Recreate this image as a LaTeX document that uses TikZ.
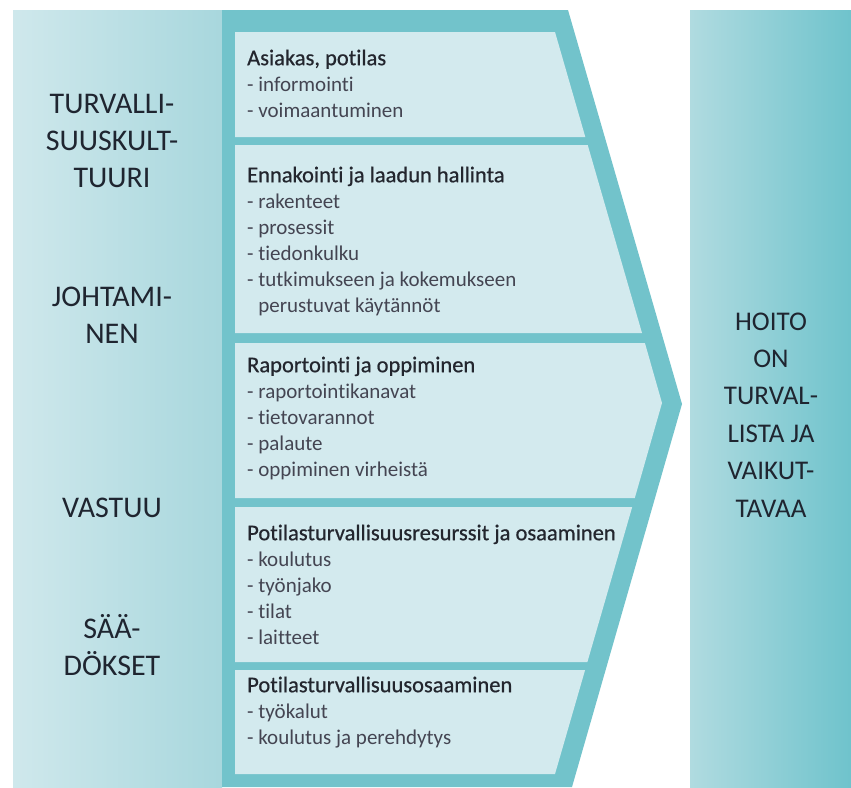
\documentclass[tikz,border=0pt]{standalone}
\usepackage{fontspec}
\setmainfont[Ligatures=NoCommon]{Carlito}
\newfontfamily\titlefont[Ligatures=NoCommon,FakeBold=0.6]{Carlito}
\definecolor{tealband}{HTML}{72C3CB}
\definecolor{boxfill}{HTML}{D3EAEE}
\definecolor{lcolL}{HTML}{CFE8EC}
\definecolor{lcolR}{HTML}{A8D7DD}
\definecolor{rcolL}{HTML}{B0DBE0}
\definecolor{rcolR}{HTML}{6FC3CC}
\definecolor{titlecol}{HTML}{23262E}
\definecolor{itemcol}{HTML}{444552}
\definecolor{labcol}{HTML}{1F2530}
\tikzset{
  boxtext/.style={anchor=north west, inner sep=0pt, align=left,
    font=\fontsize{21}{26}\selectfont, text=itemcol},
  sidelab/.style={anchor=north, inner sep=0pt, align=center,
    font=\fontsize{30}{37}\selectfont, text=labcol},
  reslab/.style={anchor=north, inner sep=0pt, align=center,
    font=\fontsize{27}{37.4}\selectfont, text=labcol},
  innerbox/.style={fill=boxfill}
}
\newcommand{\boxtitle}[1]{\strut{\titlefont\fontsize{22.5}{26}\selectfont\color{titlecol}#1}}
\begin{document}
\begin{tikzpicture}[x=1pt,y=-1pt]
\useasboundingbox (0,0) rectangle (851,787);
\fill[white] (0,0) rectangle (851,787);
% side columns
\shade[left color=lcolL, right color=lcolR] (13,10) rectangle (222,787);
\shade[left color=rcolL, right color=rcolR] (690,10) rectangle (851,787);
% big chevron
\fill[tealband] (222,10) -- (568,10) -- (682,404) -- (572,787) -- (222,787) -- cycle;
% inner boxes
\fill[innerbox] (235,32) -- (555,32) -- (585.3,137) -- (235,137) -- cycle;
\fill[innerbox] (235,145) -- (587.7,145) -- (642.0,333) -- (235,333) -- cycle;
\fill[innerbox] (235,343) -- (644.9,343) -- (662,403) -- (634.8,498) -- (235,498) -- cycle;
\fill[innerbox] (235,507) -- (632.2,507) -- (587.4,662) -- (235,662) -- cycle;
\fill[innerbox] (235,670) -- (585.1,670) -- (555,774) -- (235,774) -- cycle;
% box texts
\node[boxtext] (t1) at (247,46.8) {\boxtitle{Asiakas, potilas}\\- informointi\\- voimaantuminen};
\node[boxtext] (t2) at (247,163.8) {\boxtitle{Ennakointi ja laadun hallinta}\\- rakenteet\\- prosessit\\- tiedonkulku\\- tutkimukseen ja kokemukseen\\\phantom{- }perustuvat käytännöt};
\node[boxtext] (t3) at (247,353.8) {\boxtitle{Raportointi ja oppiminen}\\- raportointikanavat\\- tietovarannot\\- palaute\\- oppiminen virheistä};
\node[boxtext] (t4) at (247,521.8) {\boxtitle{Potilasturvallisuusresurssit ja osaaminen}\\- koulutus\\- työnjako\\- tilat\\- laitteet};
\node[boxtext] (t5) at (247,673.8) {\boxtitle{Potilasturvallisuusosaaminen}\\- työkalut\\- koulutus ja perehdytys};
% left labels
\node[sidelab] (l1) at (112,87.1) {\strut TURVALLI-\\SUUSKULT-\\TUURI};
\node[sidelab] (l2) at (112,280.1) {\strut JOHTAMI-\\NEN};
\node[sidelab] (l3) at (112,491.1) {\strut VASTUU};
\node[sidelab] (l4) at (112,612.1) {\strut SÄÄ-\\DÖKSET};
% right label
\node[reslab] (r1) at (771,303.8) {\strut HOITO\\ON\\TURVAL-\\LISTA JA\\VAIKUT-\\TAVAA};
\end{tikzpicture}
\end{document}
